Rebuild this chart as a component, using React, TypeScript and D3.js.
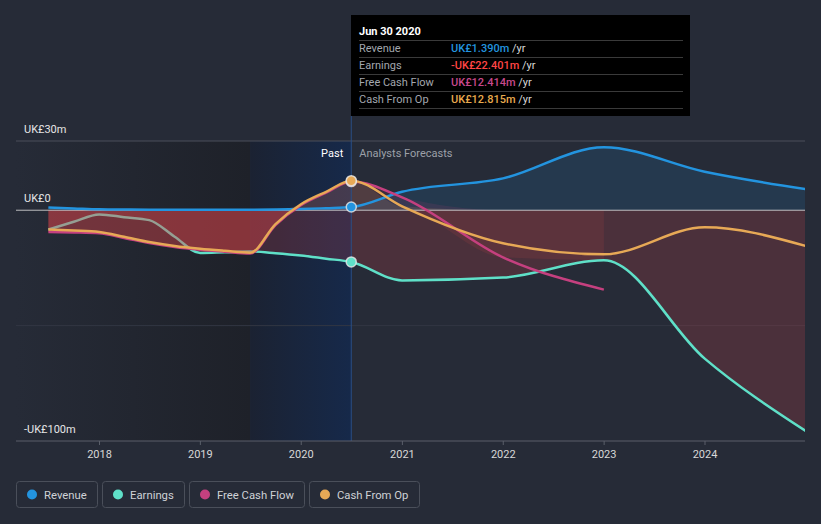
import React from "react";
import * as d3 from "d3";

const pastDates = [
  "2017-06-30", "2017-09-30", "2017-12-31", "2018-03-31", "2018-06-30", "2018-09-30",
  "2018-12-31", "2019-03-31", "2019-06-30", "2019-09-30", "2019-12-31", "2020-03-31", "2020-06-30",
];
const forecastDates = ["2020-06-30", "2020-12-31", "2021-12-31", "2022-12-31", "2023-12-31", "2024-12-31"];

const revenuePast = [1.2, 0.8, 0.4, 0.3, 0.2, 0.2, 0.2, 0.2, 0.2, 0.3, 0.5, 0.9, 1.39];
const earningsPast = [-8.4, -5.0, -1.8, -3.0, -4.3, -11.5, -18.5, -18.2, -17.9, -18.6, -19.6, -21.0, -22.401];
const fcfPast = [-9.4, -9.6, -10.0, -12.0, -14.2, -15.9, -17.1, -18.0, -18.8, -6.4, 2.2, 7.6, 12.414];
const cfoPast = [-8.4, -8.8, -9.4, -11.5, -13.8, -15.5, -16.7, -17.6, -18.4, -6.0, 2.6, 8.0, 12.815];

const revenueFc = [1.39, 8.0, 13.8, 27.3, 16.7, 9.1];
const earningsFc = [-22.401, -30.4, -29.2, -21.7, -64.3, -95.7];
const fcfFc = [12.414, 5.6, -20.4, -34.4];
const cfoFc = [12.815, 1.7, -14.3, -19.1, -7.4, -15.5];

const yTicks = [30, 0, -100];
const yTickLabels = ["UK£30m", "UK£0", "-UK£100m"];
const yGrid = [30, -50];
const xTicks = ["2018", "2019", "2020", "2021", "2022", "2023", "2024"];

const COLORS = { revenue: "#2394df", earnings: "#5fe0c8", fcf: "#c5407f", cfo: "#e7a956", red: "#e0464b" };

type Pt = { d: Date; v: number };
const parse = d3.timeParse("%Y-%m-%d");
const mk = (dates: string[], vals: number[]): Pt[] => vals.map((v, i) => ({ d: parse(dates[i]) as Date, v }));

export default function App() {
  const W = 821, H = 524;
  const left = 16, right = 805, top = 141, bottom = 441;
  const x = d3.scaleTime()
    .domain([parse("2018-01-01") as Date, parse("2024-01-01") as Date])
    .range([99.5, 705]);
  const y = d3.scaleLinear().domain([-100, 30]).range([bottom, top]);

  const revenue = [...mk(pastDates, revenuePast), ...mk(forecastDates, revenueFc).slice(1)];
  const earnings = [...mk(pastDates, earningsPast), ...mk(forecastDates, earningsFc).slice(1)];
  const fcf = [...mk(pastDates, fcfPast), ...mk(forecastDates.slice(0, fcfFc.length), fcfFc).slice(1)];
  const cfo = [...mk(pastDates, cfoPast), ...mk(forecastDates, cfoFc).slice(1)];

  const line = d3.line<Pt>().x((p) => x(p.d)).y((p) => y(p.v)).curve(d3.curveMonotoneX);
  const areaNeg = d3.area<Pt>().x((p) => x(p.d)).y0(y(0)).y1((p) => y(Math.min(p.v, 0))).curve(d3.curveMonotoneX);
  const areaPos = d3.area<Pt>().x((p) => x(p.d)).y0(y(0)).y1((p) => y(Math.max(p.v, 0))).curve(d3.curveMonotoneX);

  const fcfPastPts = mk(pastDates, fcfPast);
  const fcfFcPts = mk(forecastDates.slice(0, fcfFc.length), fcfFc).map((p, i) => ({ d: p.d, v: Math.max(p.v, earningsFc[i]) }));

  const nowX = x(parse("2020-06-30") as Date);
  const bandStart = x(parse("2019-06-30") as Date);

  const font = "Roboto, 'Noto Sans', sans-serif";

  const legend = [
    { label: "Revenue", color: COLORS.revenue, x0: 16, w: 81 },
    { label: "Earnings", color: COLORS.earnings, x0: 102, w: 82 },
    { label: "Free Cash Flow", color: COLORS.fcf, x0: 189, w: 115 },
    { label: "Cash From Op", color: COLORS.cfo, x0: 309, w: 110 },
  ];

  const tipRows = [
    { label: "Revenue", value: "UK£1.390m", color: "#2394df" },
    { label: "Earnings", value: "-UK£22.401m", color: "#ff4545" },
    { label: "Free Cash Flow", value: "UK£12.414m", color: "#c8488c" },
    { label: "Cash From Op", value: "UK£12.815m", color: "#e8aa4e" },
  ];

  const last = (arr: Pt[]) => arr[pastDates.length - 1];

  return (
    <svg width={W} height={H} style={{ position: "absolute", left: 0, top: 0, display: "block" }} fontFamily={font}>
      <defs>
        <linearGradient id="pastGrad" x1="0" x2="1" y1="0" y2="0">
          <stop offset="0" stopColor="#262b37" />
          <stop offset="1" stopColor="#1e2129" />
        </linearGradient>
        <linearGradient id="bandGrad" x1="0" x2="1" y1="0" y2="0">
          <stop offset="0" stopColor="#1b2232" />
          <stop offset="1" stopColor="#16294a" />
        </linearGradient>
        <clipPath id="plotClip">
          <rect x={left} y={top - 10} width={right - left} height={bottom - top + 10} />
        </clipPath>
      </defs>
      <rect x={0} y={0} width={W} height={H} fill="#262b37" />

      {/* past shading */}
      <rect x={left} y={top} width={bandStart - left} height={bottom - top} fill="url(#pastGrad)" />
      <rect x={bandStart} y={top} width={nowX - bandStart} height={bottom - top} fill="url(#bandGrad)" />

      {/* gridlines */}
      {yGrid.map((g) => (
        <line key={g} x1={left} x2={right} y1={y(g)} y2={y(g)} stroke={g === 30 ? "#4a4f5a" : "#323743"} strokeWidth={1} />
      ))}

      <g clipPath="url(#plotClip)">
        {/* areas */}
        <path d={areaPos(revenue) || ""} fill={COLORS.revenue} fillOpacity={0.14} />
        <path d={areaNeg(earnings) || ""} fill={COLORS.red} fillOpacity={0.2} />
        <path d={areaNeg(fcfFcPts) || ""} fill={COLORS.red} fillOpacity={0.12} />
        <path d={areaPos(fcf) || ""} fill={COLORS.fcf} fillOpacity={0.13} />
        <path d={areaPos(cfo) || ""} fill={COLORS.cfo} fillOpacity={0.13} />

        {/* earnings line sits under the past FCF fill */}
        <path d={line(earnings) || ""} fill="none" stroke={COLORS.earnings} strokeWidth={2.5} />
        <path d={areaNeg(fcfPastPts) || ""} fill={COLORS.red} fillOpacity={0.42} />

        {/* zero line */}
        <line x1={left} x2={right} y1={y(0)} y2={y(0)} stroke="#d6d6d6" strokeOpacity={0.85} strokeWidth={1} />

        {/* lines */}
        <path d={line(revenue) || ""} fill="none" stroke={COLORS.revenue} strokeWidth={2.5} />
        <path d={line(fcf) || ""} fill="none" stroke={COLORS.fcf} strokeWidth={2.5} />
        <path d={line(cfo) || ""} fill="none" stroke={COLORS.cfo} strokeWidth={2.5} />
      </g>

      {/* now line */}
      <line x1={nowX} x2={nowX} y1={116} y2={bottom} stroke="#2a4f85" strokeWidth={1} />

      {/* markers */}
      <circle cx={nowX} cy={y(last(revenue).v)} r={5} fill={COLORS.revenue} stroke="#e8e8e8" strokeOpacity={0.8} strokeWidth={1.5} />
      <circle cx={nowX} cy={y(last(earnings).v)} r={5} fill={COLORS.earnings} stroke="#e8e8e8" strokeOpacity={0.8} strokeWidth={1.5} />
      <circle cx={nowX} cy={y(last(fcf).v)} r={5} fill={COLORS.fcf} stroke="#e8e8e8" strokeOpacity={0.8} strokeWidth={1.5} />
      <circle cx={nowX} cy={y(last(cfo).v)} r={5} fill={COLORS.cfo} stroke="#e8e8e8" strokeOpacity={0.8} strokeWidth={1.5} />

      {/* Past / Forecast labels */}
      <text x={nowX - 8} y={157} textAnchor="end" fill="#ffffff" fontSize={11}>Past</text>
      <text x={nowX + 8} y={157} fill="#9ca0a8" fontSize={11}>Analysts Forecasts</text>

      {/* y labels */}
      {yTicks.map((t, i) => (
        <text key={t} x={24} y={y(t) - 8} fill="#e6e6e6" fontSize={11}>{yTickLabels[i]}</text>
      ))}

      {/* x axis */}
      <line x1={left} x2={right} y1={bottom} y2={bottom} stroke="#5a5f6a" strokeWidth={1} />
      {xTicks.map((t) => {
        const xx = x(parse(`${t}-01-01`) as Date);
        return (
          <g key={t}>
            <line x1={xx} x2={xx} y1={bottom} y2={bottom + 4} stroke="#5a5f6a" />
            <text x={xx} y={458} textAnchor="middle" fill="#d8d8d8" fontSize={11}>{t}</text>
          </g>
        );
      })}

      {/* tooltip */}
      <rect x={351} y={15} width={339} height={101} fill="#000000" />
      <text x={359} y={35} fill="#ffffff" fontSize={11} fontWeight="bold">Jun 30 2020</text>
      {tipRows.map((r, i) => {
        const sy = 40 + i * 17;
        return (
          <g key={r.label}>
            <line x1={359} x2={683} y1={sy + 0.5} y2={sy + 0.5} stroke="#3a3a3a" />
            <text x={359} y={sy + 12} fill="#a3a7ae" fontSize={11}>{r.label}</text>
            <text x={451} y={sy + 12} fontSize={11}>
              <tspan fill={r.color} fontWeight="500">{r.value}</tspan>
              <tspan fill="#d8d8d8"> /yr</tspan>
            </text>
          </g>
        );
      })}
      <line x1={359} x2={683} y1={108.5} y2={108.5} stroke="#3a3a3a" />

      {/* legend */}
      {legend.map((l) => (
        <g key={l.label}>
          <rect x={l.x0 + 0.5} y={481.5} width={l.w} height={26} rx={3} fill="none" stroke="#4a4f5a" />
          <circle cx={l.x0 + 16} cy={494.5} r={5} fill={l.color} />
          <text x={l.x0 + 28} y={498.5} fill="#cfd2d6" fontSize={11.3}>{l.label}</text>
        </g>
      ))}
    </svg>
  );
}
